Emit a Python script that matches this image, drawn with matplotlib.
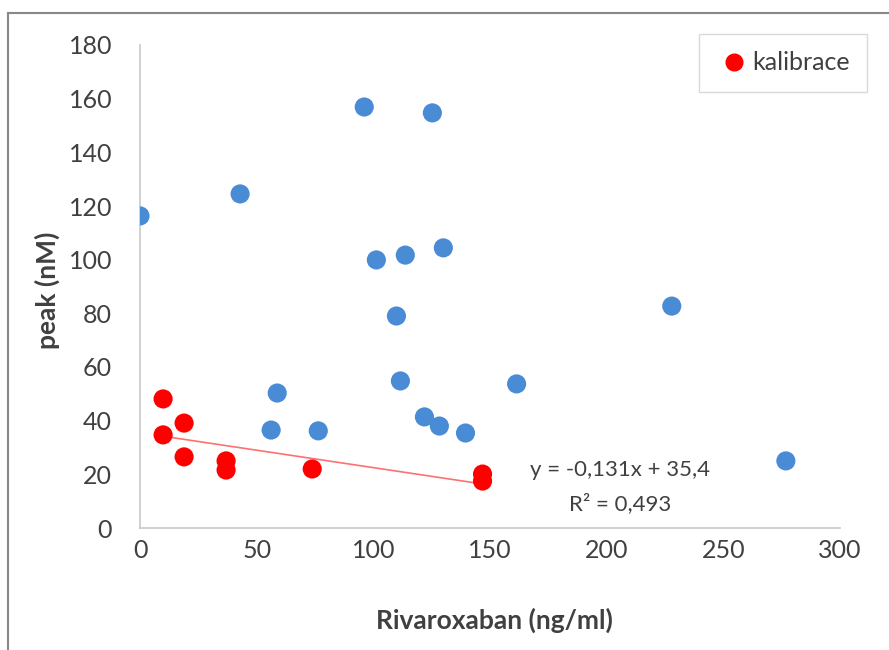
import matplotlib.pyplot as plt
import numpy as np
from matplotlib.lines import Line2D

plt.rcParams['font.family'] = ['Lato', 'DejaVu Sans']

# samples (blue, not in legend)
sample_x = [0, 42.9, 96.1, 125.3, 101.3, 113.7, 130, 109.9, 111.6, 161.4,
            227.9, 276.8, 58.8, 56.2, 76.4, 121.9, 128.3, 139.5]
sample_y = [116.3, 124.5, 156.9, 154.7, 99.9, 101.7, 104.4, 79, 54.8, 53.7,
            82.7, 25, 50.3, 36.5, 36.2, 41.4, 38, 35.4]

# calibration points
kal_x = [9.9, 9.9, 18.9, 18.9, 36.9, 36.9, 73.8, 146.8, 146.8]
kal_y = [48.1, 34.7, 39.1, 26.5, 25, 21.6, 22, 20.1, 17.5]

eq_text = "y = -0,131x + 35,4"
r2_text = "R² = 0,493"

fig = plt.figure(figsize=(8.89, 6.5), dpi=100)
ax = fig.add_axes([140/889, 1 - 528/650, 700/889, (528 - 45)/650])

ax.scatter(sample_x, sample_y, s=190, color='#4A8BD6', edgecolors='none', zorder=3)
ax.scatter(kal_x, kal_y, s=190, color='#FF0000', edgecolors='none', zorder=3)

# linear trendline through calibration points
k, q = np.polyfit(kal_x, kal_y, 1)
tx = np.array([min(kal_x), max(kal_x)])
ax.plot(tx, k * tx + q, color='#FF7070', lw=1.2, zorder=2)

ax.text(620/889, 1 - 470/650, eq_text, transform=fig.transFigure, ha='center', va='center',
        fontsize=16, color='#404040')
ax.text(620/889, 1 - 504/650, r2_text, transform=fig.transFigure, ha='center', va='center',
        fontsize=16, color='#404040')

ax.set_xlim(0, 300)
ax.set_ylim(0, 180)
ax.set_xticks(np.arange(0, 301, 50))
ax.set_yticks(np.arange(0, 181, 20))
ax.tick_params(length=0, labelsize=18, colors='#404040')
ax.tick_params(axis='y', pad=20)
ax.tick_params(axis='x', pad=8)
for s in ['top', 'right']:
    ax.spines[s].set_visible(False)
for s in ['left', 'bottom']:
    ax.spines[s].set_color('#C8C8C8')
    ax.spines[s].set_linewidth(1.2)

fig.text(47/889, 1 - 290/650, 'peak (nM)', rotation=90, ha='center', va='center',
         fontsize=19, fontweight='bold', color='#404040')
fig.text(494/889, 1 - 620/650, 'Rivaroxaban (ng/ml)', ha='center', va='center',
         fontsize=19, fontweight='bold', color='#404040')

handle = Line2D([], [], marker='o', ls='none', color='#FF0000', markersize=12)
leg = fig.legend([handle], ['kalibrace'], loc='center', bbox_to_anchor=(783/889, 1 - 63/650),
                 fontsize=18, frameon=True, fancybox=False, handletextpad=0.05,
                 borderpad=0.7, borderaxespad=0, handlelength=1.4)
leg.get_frame().set_edgecolor('#D0D0D0')
leg.get_frame().set_linewidth(1.0)
for t in leg.get_texts():
    t.set_color('#404040')

# outer chart border (top and left edges visible)
fig.add_artist(Line2D([8/889, 8/889], [0, 1 - 13/650], transform=fig.transFigure,
                      color='#888888', lw=1.5))
fig.add_artist(Line2D([8/889, 1], [1 - 13/650, 1 - 13/650], transform=fig.transFigure,
                      color='#888888', lw=1.5))

fig.savefig('out.png', dpi=100)
